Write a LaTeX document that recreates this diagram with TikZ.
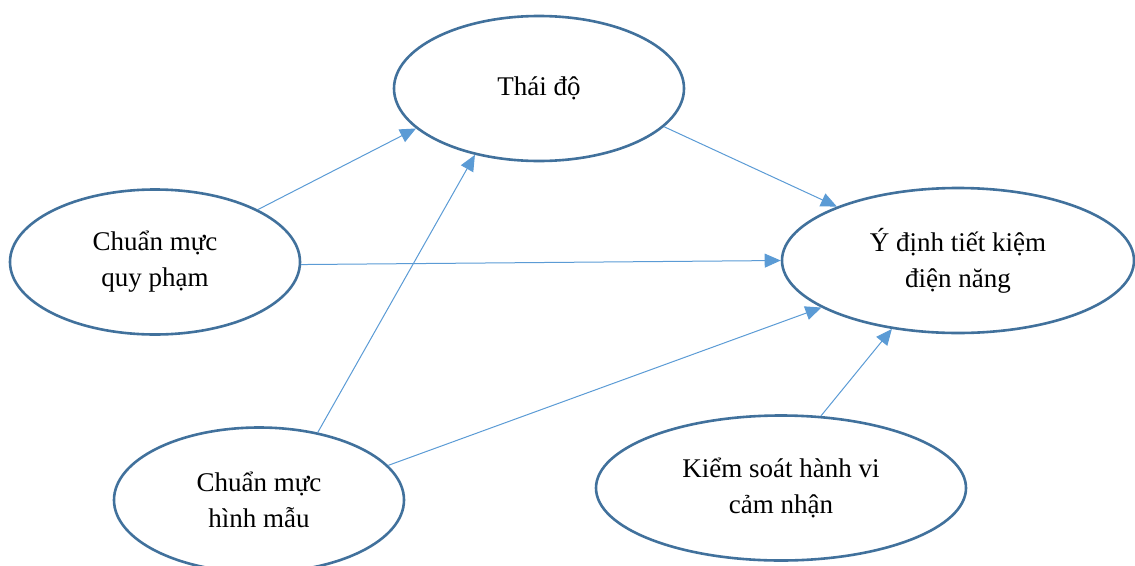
\documentclass[tikz,border=0pt]{standalone}
\usepackage{fontspec}
\setmainfont{Liberation Serif}
\usepackage{xcolor}
\usetikzlibrary{shapes, arrows.meta}

\definecolor{edgeblue}{HTML}{41719C}
\definecolor{arrowblue}{HTML}{5B9BD5}

\begin{document}
\begin{tikzpicture}[
        x=1pt, y=-1pt,
        ellipsebox/.style={ellipse, draw=edgeblue, line width=2.6pt, fill=white, inner sep=0pt, align=center, font=\fontsize{27}{36}\selectfont, minimum width=290pt, minimum height=145pt},
        arrow/.style={-{Triangle[length=16pt, width=14pt]}, line width=1pt, color=arrowblue}
    ]
        \useasboundingbox (0,0) rectangle (1135,565);

        \node[ellipsebox] (attitude) at (539,88.5) {Thái độ};
        \node[ellipsebox] (injunctive) at (155,262) {Chuẩn mực\\quy phạm};
        \node[ellipsebox, minimum width=352pt] (intention) at (958,260.5) {Ý định tiết kiệm\\điện năng};
        \node[ellipsebox] (descriptive) at (259,500) {Chuẩn mực\\hình mẫu};
        \node[ellipsebox, minimum width=370pt] (control) at (781,488) {Kiểm soát hành vi\\cảm nhận};

        % Arrows
        \draw[arrow] (injunctive.27) -- (attitude.198);
        \draw[arrow] (descriptive.49) -- (attitude.226);
        \draw[arrow] (attitude.-17) -- (intention.156);
        \draw[arrow] (injunctive.-1) -- (intention.180);
        \draw[arrow] (descriptive.15) -- (intention.199);
        \draw[arrow] (control.61) -- (intention.226);

    \end{tikzpicture}
\end{document}
